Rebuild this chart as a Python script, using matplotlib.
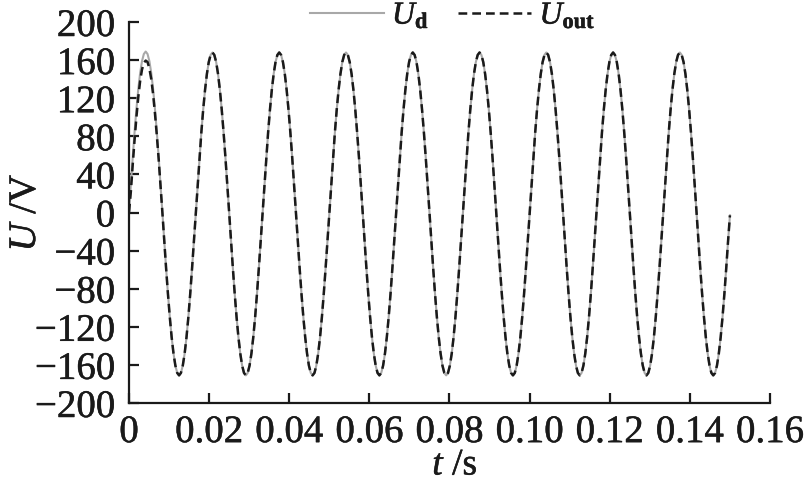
import numpy as np
import matplotlib
matplotlib.use("Agg")
import matplotlib.pyplot as plt
import matplotlib.patheffects as pe

plt.rcParams['font.family'] = ['Liberation Serif', 'DejaVu Serif']
plt.rcParams['mathtext.fontset'] = 'custom'
plt.rcParams['mathtext.rm'] = 'Liberation Serif'
plt.rcParams['mathtext.it'] = 'Liberation Serif:italic'
plt.rcParams['mathtext.bf'] = 'Liberation Serif:bold'

# Ud samples (V), 36 samples per cycle, 9 cycles from t=0 to t=0.15 s
u_d = [
    0, 29.4, 57.8, 84.5, 108.6, 129.5, 146.4, 158.8, 166.4, 169.0, 166.4, 158.8, 146.4, 129.5, 108.6, 84.5, 57.8, 29.4,
    0, -29.7, -58.5, -85.5, -109.9, -131.0, -148.1, -160.7, -168.4, -171.0, -168.4, -160.7, -148.1, -131.0, -109.9, -85.5, -58.5, -29.7,
    0, 29.2, 57.5, 84.0, 108.0, 128.7, 145.5, 157.9, 165.4, 168.0, 165.4, 157.9, 145.5, 128.7, 108.0, 84.0, 57.5, 29.2,
    0, -29.7, -58.5, -85.5, -109.9, -131.0, -148.1, -160.7, -168.4, -171.0, -168.4, -160.7, -148.1, -131.0, -109.9, -85.5, -58.5, -29.7,
    0, 29.2, 57.5, 84.0, 108.0, 128.7, 145.5, 157.9, 165.4, 168.0, 165.4, 157.9, 145.5, 128.7, 108.0, 84.0, 57.5, 29.2,
    0, -29.7, -58.5, -85.5, -109.9, -131.0, -148.1, -160.7, -168.4, -171.0, -168.4, -160.7, -148.1, -131.0, -109.9, -85.5, -58.5, -29.7,
    0, 29.2, 57.5, 84.0, 108.0, 128.7, 145.5, 157.9, 165.4, 168.0, 165.4, 157.9, 145.5, 128.7, 108.0, 84.0, 57.5, 29.2,
    0, -29.7, -58.5, -85.5, -109.9, -131.0, -148.1, -160.7, -168.4, -171.0, -168.4, -160.7, -148.1, -131.0, -109.9, -85.5, -58.5, -29.7,
    0, 29.2, 57.5, 84.0, 108.0, 128.7, 145.5, 157.9, 165.4, 168.0, 165.4, 157.9, 145.5, 128.7, 108.0, 84.0, 57.5, 29.2,
    0, -29.7, -58.5, -85.5, -109.9, -131.0, -148.1, -160.7, -168.4, -171.0, -168.4, -160.7, -148.1, -131.0, -109.9, -85.5, -58.5, -29.7,
    0, 29.2, 57.5, 84.0, 108.0, 128.7, 145.5, 157.9, 165.4, 168.0, 165.4, 157.9, 145.5, 128.7, 108.0, 84.0, 57.5, 29.2,
    0, -29.7, -58.5, -85.5, -109.9, -131.0, -148.1, -160.7, -168.4, -171.0, -168.4, -160.7, -148.1, -131.0, -109.9, -85.5, -58.5, -29.7,
    0, 29.2, 57.5, 84.0, 108.0, 128.7, 145.5, 157.9, 165.4, 168.0, 165.4, 157.9, 145.5, 128.7, 108.0, 84.0, 57.5, 29.2,
    0, -29.7, -58.5, -85.5, -109.9, -131.0, -148.1, -160.7, -168.4, -171.0, -168.4, -160.7, -148.1, -131.0, -109.9, -85.5, -58.5, -29.7,
    0, 29.2, 57.5, 84.0, 108.0, 128.7, 145.5, 157.9, 165.4, 168.0, 165.4, 157.9, 145.5, 128.7, 108.0, 84.0, 57.5, 29.2,
    0, -29.7, -58.5, -85.5, -109.9, -131.0, -148.1, -160.7, -168.4, -171.0, -168.4, -160.7, -148.1, -131.0, -109.9, -85.5, -58.5, -29.7,
    0, 29.2, 57.5, 84.0, 108.0, 128.7, 145.5, 157.9, 165.4, 168.0, 165.4, 157.9, 145.5, 128.7, 108.0, 84.0, 57.5, 29.2,
    0, -29.7, -58.5, -85.5, -109.9, -131.0, -148.1, -160.7, -168.4, -171.0, -168.4, -160.7, -148.1, -131.0, -109.9, -85.5, -58.5, -29.7,
    -3.0,
]

# Uout start-up transient (first half cycle), afterwards it follows Ud
u_out_start = [0, 22.0, 50.0, 76.0, 100.0, 121.0, 138.0, 150.0, 157.0, 159.5, 158.0, 151.0, 140.0, 124.0, 104.0, 81.0, 56.0, 28.5]
u_out = u_out_start + u_d[len(u_out_start):]

t = np.linspace(0.0, 0.15, len(u_d))

x_ticks = [0, 0.02, 0.04, 0.06, 0.08, 0.10, 0.12, 0.14, 0.16]
x_ticklabels = ['0', '0.02', '0.04', '0.06', '0.08', '0.10', '0.12', '0.14', '0.16']
y_ticks = [-200, -160, -120, -80, -40, 0, 40, 80, 120, 160, 200]
y_ticklabels = ['\u2212200', '\u2212160', '\u2212120', '\u221280', '\u221240', '0', '40', '80', '120', '160', '200']

ink = '#1a1a1a'
thick = [pe.withStroke(linewidth=0.35, foreground=ink)]

fig = plt.figure(figsize=(8.12, 4.92), dpi=100)
ax = fig.add_axes([129/812, 1 - 403/492, (770 - 129)/812, (403 - 22)/492])

ax.plot(t, u_d, color='#a8a8a8', lw=1.5, label=r'$U_{\mathbf{d}}$', zorder=2)
ax.plot(t, u_out, color=ink, lw=1.8, dashes=[3.5, 2.0], label=r'$U_{\mathbf{out}}$', zorder=3)

ax.set_xlim(0, 0.16)
ax.set_ylim(-200, 200)
ax.set_xticks(x_ticks)
ax.set_xticklabels(x_ticklabels)
ax.set_yticks(y_ticks)
ax.set_yticklabels(y_ticklabels)

for s in ['top', 'right']:
    ax.spines[s].set_visible(False)
for s in ['left', 'bottom']:
    ax.spines[s].set_linewidth(1.6)
    ax.spines[s].set_color(ink)

ax.tick_params(direction='in', length=7, width=1.6, labelsize=28, color=ink, labelcolor=ink)
ax.tick_params(axis='x', pad=8)
ax.tick_params(axis='y', pad=10)
for lab in ax.get_xticklabels() + ax.get_yticklabels():
    lab.set_path_effects(thick)

ax.set_xlabel(r'$t$ /s', fontsize=27, color=ink, path_effects=thick)
ax.set_ylabel(r'$U$ /V', fontsize=28, color=ink, path_effects=thick)
ax.xaxis.set_label_coords((455 - 129) / 641, (403 - 448) / 381)
ax.yaxis.set_label_coords((44 - 129) / 641, 0.5)

leg = fig.legend(loc='center', bbox_to_anchor=(453/812, 1 - 16/492), ncol=2, frameon=False,
                 fontsize=23, handlelength=2.3, handletextpad=0.25, columnspacing=0.9)
for txt in leg.get_texts():
    txt.set_color(ink)
    txt.set_path_effects(thick)

fig.savefig('out.png', dpi=100)
